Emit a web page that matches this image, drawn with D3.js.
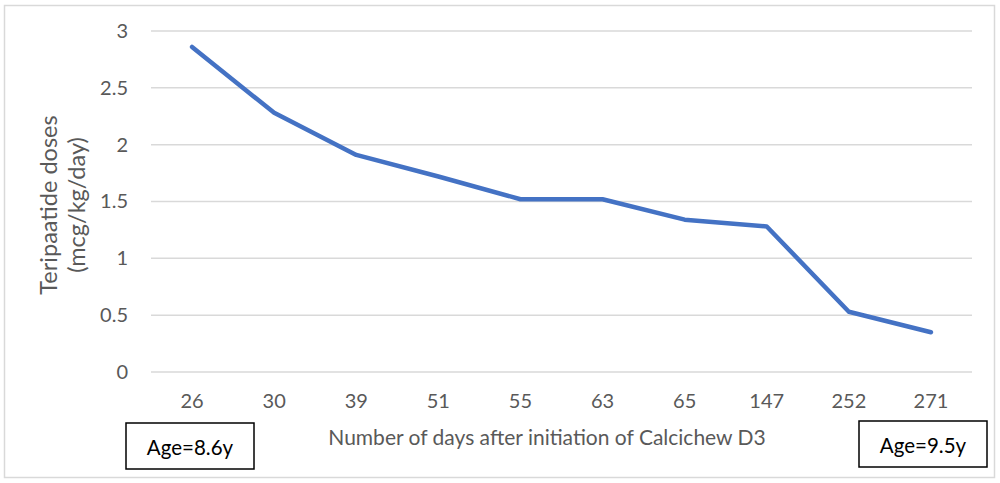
<!DOCTYPE html>
<html>
<head>
<meta charset="UTF-8">
<title>Teripaatide doses</title>
<script src="https://d3js.org/d3.v7.min.js"></script>
<style>
	body { margin: 0; background: #fff; }
	text { font-family: Lato, "Open Sans", sans-serif; }
</style>
</head>
<body>
	<div id="chart"></div>
	<script type="text/javascript">

		// data
		let days = ["26", "30", "39", "51", "55", "63", "65", "147", "252", "271"];
		let doses = [2.86, 2.28, 1.91, 1.72, 1.52, 1.52, 1.34, 1.28, 0.53, 0.35];
		let yTicks = [0, 0.5, 1, 1.5, 2, 2.5, 3];
		let ageLabels = ["Age=8.6y", "Age=9.5y"];

		let width = 1000, height = 483;

		let svg = d3.select("#chart")
			.append("svg")
			.attr("width", width)
			.attr("height", height);

		// outer chart border
		svg.append("rect")
			.attr("x", 4.5).attr("y", 5.5)
			.attr("width", 990).attr("height", 472)
			.attr("fill", "#fff")
			.attr("stroke", "#d9d9d9")
			.attr("stroke-width", 1.5);

		let x = d3.scaleBand().domain(days).range([151, 972]);
		let y = d3.scaleLinear().domain([0, 3]).range([372, 31]);

		// gridlines
		svg.append("g")
			.selectAll("line")
			.data(yTicks)
			.join("line")
			.attr("x1", 151).attr("x2", 972)
			.attr("y1", d => y(d)).attr("y2", d => y(d))
			.attr("stroke", "#d9d9d9")
			.attr("stroke-width", 1.5);

		// y axis labels
		let yAxis = svg.append("g")
			.attr("transform", "translate(128,0)")
			.call(d3.axisLeft(y).tickValues(yTicks).tickSize(0).tickPadding(0).tickFormat(d3.format("")));
		yAxis.select(".domain").remove();
		yAxis.selectAll("text")
			.attr("fill", "#595959")
			.style("font-size", "20px")
			.style("font-family", "Lato, sans-serif");

		// x axis labels
		let xAxis = svg.append("g")
			.attr("transform", "translate(0,394)")
			.call(d3.axisBottom(x).tickSize(0).tickPadding(0));
		xAxis.select(".domain").remove();
		xAxis.selectAll("text")
			.attr("fill", "#595959")
			.style("font-size", "20px")
			.style("font-family", "Lato, sans-serif");

		// the line
		let line = d3.line()
			.x((d, i) => x(days[i]) + x.bandwidth() / 2)
			.y(d => y(d));

		svg.append("path")
			.datum(doses)
			.attr("d", line)
			.attr("fill", "none")
			.attr("stroke", "#4472C4")
			.attr("stroke-width", 4.5)
			.attr("stroke-linejoin", "round")
			.attr("stroke-linecap", "round");

		// axis titles
		svg.append("text")
			.attr("x", 547).attr("y", 445)
			.attr("text-anchor", "middle")
			.attr("fill", "#595959")
			.style("font-size", "21px")
			.text("Number of days after initiation of Calcichew D3");

		let yTitle = svg.append("text")
			.attr("transform", "translate(0,205) rotate(-90)")
			.attr("text-anchor", "middle")
			.attr("fill", "#595959")
			.style("font-size", "23.5px");
		yTitle.append("tspan").attr("x", 0).attr("y", 57).text("Teripaatide doses");
		yTitle.append("tspan").attr("x", 0).attr("y", 85).text("(mcg/kg/day)");

		// age boxes
		let boxes = [{x: 126, y: 423}, {x: 859, y: 421}];
		let box = svg.append("g")
			.selectAll("g")
			.data(ageLabels)
			.join("g")
			.attr("transform", (d, i) => `translate(${boxes[i].x},${boxes[i].y})`);
		box.append("rect")
			.attr("width", 128).attr("height", 46)
			.attr("fill", "#fff")
			.attr("stroke", "#000")
			.attr("stroke-width", 1.5);
		box.append("text")
			.attr("x", 64).attr("y", 32)
			.attr("text-anchor", "middle")
			.attr("fill", "#000")
			.style("font-size", "20.5px")
			.text(d => d);

	</script>
</body>
</html>
